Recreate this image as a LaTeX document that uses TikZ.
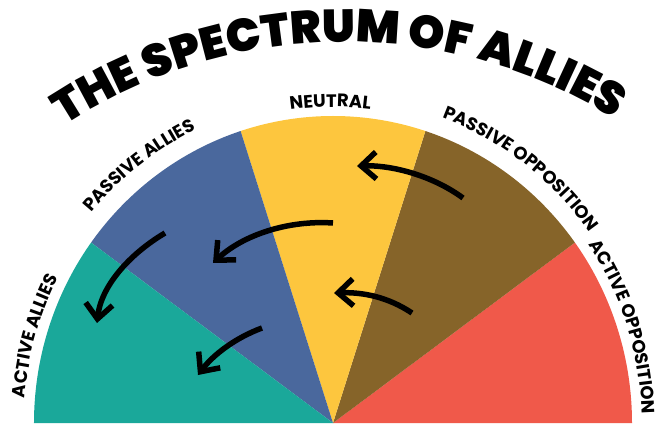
\documentclass[tikz,border=0pt]{standalone}
\usepackage{fontspec}
\setmainfont{Poppins}
\usepackage{tikz}
\usetikzlibrary{arrows.meta,decorations.text}
\definecolor{ActAllies}{RGB}{26,168,154}
\definecolor{PasAllies}{RGB}{74,104,157}
\definecolor{Neutral}{RGB}{253,198,62}
\definecolor{PasOppo}{RGB}{134,100,41}
\definecolor{ActOppo}{RGB}{240,89,74}
\IfFontExistsTF{Poppins Black}{\newfontfamily\TitleFont{Poppins Black}}{\newfontfamily\TitleFont{Poppins}[UprightFont=* Bold]}
\newcommand{\LabelFont}{\bfseries\fontsize{18}{18}\selectfont}
\newcommand{\Slice}[3]{% start end colour
\fill[#3] (0,0) -- (#1:299 and 307) arc[start angle=#1,end angle=#2,x radius=299,y radius=307] -- cycle;
}
\newcommand{\ArcLabel}[4]{% centre angle, x radius, y radius, text
\path[decorate,decoration={text along path,text align=center,text={|\LabelFont|#4}}]
  ({#1+30}:#2 and #3) arc[start angle={#1+30},end angle={#1-30},x radius=#2,y radius=#3];
}

\begin{document}
\begin{tikzpicture}[x=1pt,y=1pt,
  nudge/.style={line width=5.5pt,-{Straight Barb[length=15pt,width=27pt]}}]
\useasboundingbox (-333,0) rectangle (330,423);
% the five slices
\Slice{0}{36}{ActOppo}
\Slice{36}{72}{PasOppo}
\Slice{72}{108}{Neutral}
\Slice{108}{144}{PasAllies}
\Slice{144}{180}{ActAllies}
% labels round the rim
\ArcLabel{164}{309}{317}{ACTIVE ALLIES}
\ArcLabel{127.5}{317}{325}{PASSIVE ALLIES}
\ArcLabel{90.5}{309}{316}{NEUTRAL}
\ArcLabel{53}{317}{325}{PASSIVE OPPOSITION}
\ArcLabel{18}{309}{317}{ACTIVE OPPOSITION}
% title
\path[decorate,decoration={text along path,text align=center,
  text={|\TitleFont\fontsize{46}{46}\selectfont|THE SPECTRUM OF ALLIES}}]
  (12,-131) ++(130.75:512) arc[start angle=130.75,end angle=50.75,radius=512];
% arrows
\coordinate (po1) at (130,225);
\coordinate (ne1) at (24,257);
\coordinate (po2) at (79,110);
\coordinate (ne2) at (1,130);
\coordinate (ne3) at (0,200);
\coordinate (pa1) at (-120,160);
\coordinate (pa2) at (-168,190);
\coordinate (aa1) at (-236,100);
\coordinate (pa3) at (-71,95);
\coordinate (aa2) at (-135,48);
\draw[nudge] (po1) .. controls (100,247) and (60,258) .. (ne1);
\draw[nudge] (po2) .. controls (55,126) and (30,131) .. (ne2);
\draw[nudge] (ne3) .. controls (-45,203) and (-90,188) .. (pa1);
\draw[nudge] (pa2) .. controls (-205,168) and (-232,136) .. (aa1);
\draw[nudge] (pa3) .. controls (-98,85) and (-120,68) .. (aa2);
\end{tikzpicture}
\end{document}
